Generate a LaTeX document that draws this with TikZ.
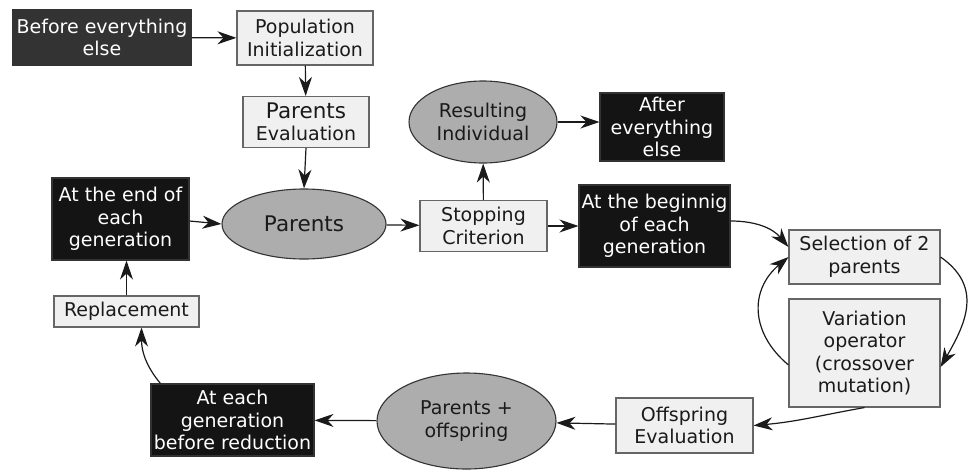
\documentclass[tikz,border=0pt]{standalone}
\usepackage{fontspec}
\setmainfont{DejaVu Sans}
\usepackage{tikz}
\usetikzlibrary{positioning,arrows.meta,shapes.geometric,calc}
\usepackage{xcolor}
\definecolor{lightbox}{HTML}{F0F0F0}
\definecolor{darkbox}{HTML}{141414}
\definecolor{firstbox}{HTML}{333333}
\definecolor{ovalfill}{HTML}{ADADAD}
\definecolor{ink}{HTML}{1A1A1A}

\begin{document}
\begin{tikzpicture}[x=1pt, y=1pt,
  every node/.style={font=\fontsize{19}{22.5}\selectfont, align=center, inner sep=1pt, line width=1.1pt},
  light/.style={draw=black!60, fill=lightbox, text=ink, rectangle},
  dark/.style={draw=black!80, fill=darkbox, text=white, rectangle},
  oval/.style={draw=black!80, fill=ovalfill, text=ink, ellipse, inner sep=0pt},
  arr/.style={-{Stealth[length=19pt, width=13pt, inset=6pt]}, line width=1.2pt, draw=ink},
  big/.style={font=\fontsize{21.5}{23}\selectfont},
]
  \useasboundingbox (0,0) rectangle (973,-469);

  \node[dark, fill=firstbox, minimum width=178, minimum height=55] (before)  at (102,-37.5) {Before everything\\else};
  \node[light, minimum width=136, minimum height=54] (popinit)   at (305,-38)  {Population\\Initialization};
  \node[light, minimum width=126, minimum height=51] (parenteval) at (306,-122) {{\fontsize{21.5}{23}\selectfont Parents}\\Evaluation};
  \node[oval, minimum width=148, minimum height=82]  (result)    at (483,-122) {Resulting\\Individual};
  \node[dark, minimum width=124, minimum height=68]  (after)     at (662,-127) {After\\everything\\else};
  \node[dark, minimum width=137, minimum height=82]  (endgen)    at (120.5,-219) {At the end of\\each\\generation};
  \node[oval, big, minimum width=164, minimum height=70] (parents) at (304,-224) {Parents};
  \node[light, minimum width=127, minimum height=51] (stopping)  at (483.5,-226) {Stopping\\Criterion};
  \node[dark, minimum width=151, minimum height=82]  (begingen)  at (654.5,-226) {At the beginnig\\of each\\generation};
  \node[light, minimum width=151, minimum height=54] (selection) at (864.5,-257) {Selection of 2\\parents};
  \node[light, minimum width=151, minimum height=108] (variation) at (864.5,-353) {Variation\\operator\\(crossover\\mutation)};
  \node[light, minimum width=137, minimum height=55] (offeval)   at (684.5,-425.5) {Offspring\\Evaluation};
  \node[oval, minimum width=179, minimum height=96]  (paroff)    at (466.5,-421) {Parents +\\offspring};
  \node[dark, minimum width=163, minimum height=72]  (reduction) at (232.5,-420) {At each\\generation\\before reduction};
  \node[light, minimum width=145, minimum height=31] (replace)   at (126.5,-311.5) {Replacement};

  \draw[arr] (before) -- (popinit);
  \draw[arr] (popinit) -- (parenteval);
  \draw[arr] (parenteval.south) -- (parents.north);
  \draw[arr] (endgen.east |- 0,-221) -- (parents.west);
  \draw[arr] (parents) -- (stopping);
  \draw[arr] (stopping) -- (result);
  \draw[arr] (result.east) -- (result.east -| after.west);
  \draw[arr] (stopping) -- (begingen);
  \draw[arr] ($(begingen.east)+(0,5)$) to[out=0, in=130] ($(selection.west)+(0,10)$);
  \draw[arr] (selection.east) to[out=-35, in=60, looseness=1.2] ($(variation.east)+(0,-14)$);
  \draw[arr] ($(variation.west)+(0,-12)$) to[out=140, in=220, looseness=1.2] (selection.west);
  \draw[arr] (variation.south) to[out=190, in=5] (offeval.east);
  \draw[arr] (offeval) -- (paroff);
  \draw[arr] (paroff) -- (reduction);
  \draw[arr] ($(reduction.north west)+(10,0)$) to[out=130, in=-90] ($(replace.south)+(15,0)$);
  \draw[arr] (replace.north) -- (replace.north |- endgen.south);
\end{tikzpicture}
\end{document}
